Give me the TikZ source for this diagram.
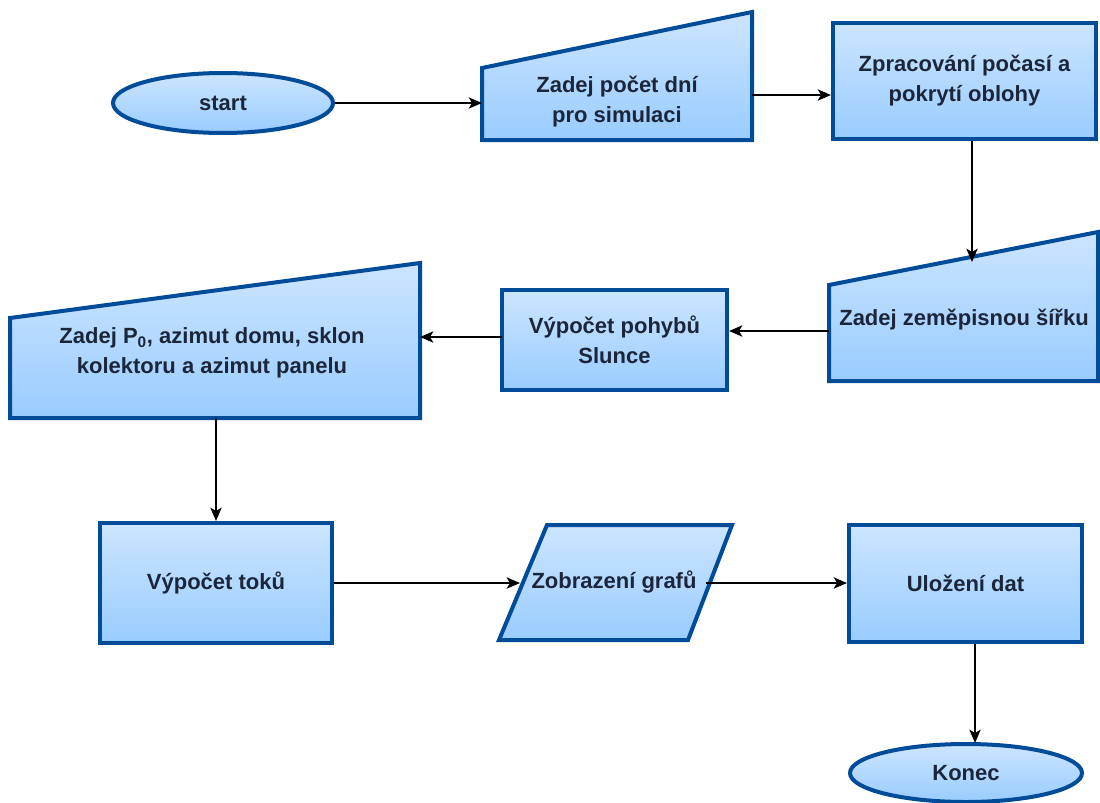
\documentclass[tikz,border=0pt]{standalone}
\usepackage{fontspec}
\setmainfont{Liberation Sans}
\usetikzlibrary{shapes.geometric,arrows.meta}

\definecolor{boxline}{RGB}{0,76,153}
\definecolor{boxtop}{RGB}{204,229,255}
\definecolor{boxbot}{RGB}{153,204,255}
\definecolor{boxtext}{RGB}{28,38,58}

\tikzset{every picture/.style={line width=0.75pt},
  blok/.style={draw=boxline, line width=3pt, top color=boxtop, bottom color=boxbot},
  procbox/.style={blok, rectangle, inner sep=0pt, text=boxtext, font=\bfseries\fontsize{16.5}{22.5}\selectfont, align=center},
  termbox/.style={blok, ellipse, inner sep=0pt, text=boxtext, font=\bfseries\fontsize{16.5}{22.5}\selectfont},
  popis/.style={text=boxtext, font=\bfseries\fontsize{16.5}{22.5}\selectfont, align=center, inner sep=0.75pt},
  sipka/.style={-{Stealth[length=10pt,width=8.5pt,inset=2.5pt]}, line width=1.2pt, color=black}
}

\begin{document}
\begin{tikzpicture}[x=0.75pt,y=0.75pt,yscale=-1,xscale=1]
\useasboundingbox (0,0) rectangle (1100,803);

%Shape: Ellipse [start]
\node [termbox, minimum width=165pt, minimum height=45pt] (start) at (223,103) {start};

%Shape: Manual Input [dni]
\coordinate (dni-sw) at (482,140);
\coordinate (dni-nw) at (482,68);
\coordinate (dni-ne) at (752,12);
\coordinate (dni-se) at (752,140);
\draw [blok] (dni-sw) -- (dni-nw) -- (dni-ne) -- (dni-se) -- cycle ;
% Text Node
\node [popis] (dniText) at (617,102) {Zadej počet dní\\pro simulaci};

%Shape: Rectangle [zprac]
\node [procbox, minimum width=197.25pt, minimum height=87pt] (zprac) at (964.5,81) {Zpracování počasí a\\pokrytí oblohy};

%Shape: Manual Input [sirka]
\coordinate (sirka-sw) at (829,381);
\coordinate (sirka-nw) at (829,285);
\coordinate (sirka-ne) at (1098,232);
\coordinate (sirka-se) at (1098,381);
\draw [blok] (sirka-sw) -- (sirka-nw) -- (sirka-ne) -- (sirka-se) -- cycle ;
% Text Node
\node [popis] (sirkaText) at (964,320) {Zadej zeměpisnou šířku};

%Shape: Rectangle [pohyb]
\node [procbox, minimum width=168.75pt, minimum height=75pt] (pohyb) at (614.5,340) {Výpočet pohybů\\Slunce};

%Shape: Manual Input [p0]
\coordinate (p0-sw) at (10,418);
\coordinate (p0-nw) at (10,318);
\coordinate (p0-ne) at (420,263);
\coordinate (p0-se) at (420,418);
\draw [blok] (p0-sw) -- (p0-nw) -- (p0-ne) -- (p0-se) -- cycle ;
% Text Node
\node [popis] (p0Text) at (212,353) {Zadej P\textsubscript{0}, azimut domu, sklon\\kolektoru a azimut panelu};

%Shape: Rectangle [toky]
\node [procbox, minimum width=174pt, minimum height=90pt] (toky) at (216,583) {Výpočet toků};

%Shape: Parallelogram [graf]
\coordinate (graf-sw) at (499,640);
\coordinate (graf-nw) at (547,525);
\coordinate (graf-ne) at (732,525);
\coordinate (graf-se) at (688,640);
\draw [blok] (graf-sw) -- (graf-nw) -- (graf-ne) -- (graf-se) -- cycle ;
% Text Node
\node [popis] (grafText) at (614,582) {Zobrazení grafů};

%Shape: Rectangle [ulozeni]
\node [procbox, minimum width=174.75pt, minimum height=87.75pt] (ulozeni) at (965.5,583.5) {Uložení dat};

%Shape: Ellipse [konec]
\node [termbox, minimum width=174pt, minimum height=43.5pt] (konec) at (966,773) {Konec};

% connector ends
\coordinate (dniOut) at (752,95);
\coordinate (sirkaIn) at (972,262);
\coordinate (sirkaOut) at (829,331);
\coordinate (pohybOut) at (502,337);
\coordinate (p0Out) at (215,418);
\coordinate (grafIn) at (520,583);
\coordinate (grafOut) at (706,583);
\coordinate (konecIn) at (975,743);

%Straight Lines
\draw [sipka] (start.east) -- (start.east -| dni-sw) ;
\draw [sipka] (dniOut) -- (dniOut -| zprac.west) ;
\draw [sipka] (zprac.south -| sirkaIn) -- (sirkaIn) ;
\draw [sipka] (sirkaOut) -- (sirkaOut -| pohyb.east) ;
\draw [sipka] (pohybOut) -- (pohybOut -| p0-se) ;
\draw [sipka] (p0Out -| toky.north) -- (toky.north) ;
\draw [sipka] (toky.east) -- (grafIn) ;
\draw [sipka] (grafOut) -- (grafOut -| ulozeni.west) ;
\draw [sipka] (ulozeni.south -| konecIn) -- (konecIn) ;

\end{tikzpicture}
\end{document}
